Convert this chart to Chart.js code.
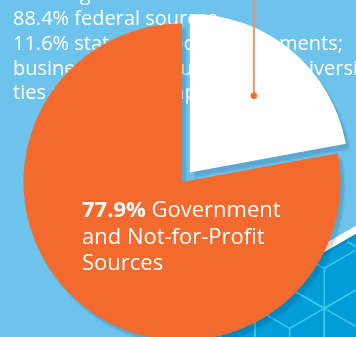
<!DOCTYPE html>
<html>
<head>
<meta charset="utf-8">
<script src="https://cdn.jsdelivr.net/npm/chart.js@4/dist/chart.umd.min.js"></script>
<style>
  html, body { margin: 0; padding: 0; width: 356px; height: 337px; overflow: hidden; background: #6DC3EB; }
  #wrap { position: absolute; left: 0; top: 0; width: 356px; height: 364px; }
</style>
</head>
<body>
<div id="wrap"><canvas id="c"></canvas></div>
<script>
// Funding split
const categories = ['Industry and Other Sources', 'Government and Not-for-Profit Sources'];
const shares = [22.1, 77.9];
// Label text for the large slice (value prefix is built from shares)
const labelLines = ['Government', 'and Not-for-Profit', 'Sources'];
// Breakdown notes printed behind the pie
const noteLines = [
  'Of this government amount:',
  '88.4% federal sources',
  '11.6% state and local governments;',
  'businesses and foundations; universi-',
  'ties and other nonprofits'
];

const BG = '#6DC3EB';
const ORANGE = '#F26A2D';
const DEEP = '#009DD9';
const GRID = '#3DC8F0';

// Background: notes text, and the isometric panel in the lower right
const backdrop = {
  id: 'backdrop',
  beforeDraw(chart) {
    const ctx = chart.ctx, W = chart.width, H = chart.height;
    ctx.save();
    ctx.fillStyle = BG;
    ctx.fillRect(0, 0, W, H);

    ctx.fillStyle = '#FFFFFF';
    ctx.font = '20px "Open Sans", sans-serif';
    ctx.textBaseline = 'alphabetic';
    noteLines.forEach((s, i) => ctx.fillText(s, 13, (i === 0 ? 0 : 0.5) + i * 24.7));

    const t = Math.tan(Math.PI / 6);
    const edge = x => 239 - t * (x - 333);
    const x0 = 90;
    // deep blue panel
    ctx.beginPath();
    ctx.moveTo(x0, edge(x0) + 8);
    ctx.lineTo(W, edge(W) + 8);
    ctx.lineTo(W, H);
    ctx.lineTo(x0, H);
    ctx.closePath();
    ctx.fillStyle = DEEP;
    ctx.fill();

    // honeycomb cube lines inside the panel
    ctx.save();
    ctx.clip();
    ctx.strokeStyle = GRID;
    ctx.lineWidth = 1.5;
    const L = 40, hx = L * Math.sqrt(3) / 2;
    for (let r = -3; r <= 3; r++) {
      for (let c = -5; c <= 2; c++) {
        const cx = 324.3 + c * 2 * hx - ((r & 1) ? hx : 0);
        const cy = 268.3 + r * 1.5 * L;
        ctx.beginPath();
        for (let k = 0; k <= 6; k++) {
          const a = (-90 + 60 * k) * Math.PI / 180;
          const px = cx + L * Math.cos(a), py = cy + L * Math.sin(a);
          if (k === 0) ctx.moveTo(px, py); else ctx.lineTo(px, py);
        }
        ctx.moveTo(cx - hx, cy - L / 2); ctx.lineTo(cx, cy);
        ctx.lineTo(cx + hx, cy - L / 2);
        ctx.moveTo(cx, cy); ctx.lineTo(cx, cy + L);
        ctx.stroke();
      }
    }
    ctx.restore();

    // darker lip under the white stripe
    ctx.beginPath();
    ctx.moveTo(x0, edge(x0) + 8);
    ctx.lineTo(W, edge(W) + 8);
    ctx.lineTo(W, edge(W) + 11);
    ctx.lineTo(x0, edge(x0) + 11);
    ctx.closePath();
    ctx.fillStyle = '#0A8BC6';
    ctx.fill();

    // white stripe
    ctx.beginPath();
    ctx.moveTo(x0, edge(x0));
    ctx.lineTo(W, edge(W));
    ctx.lineTo(W, edge(W) + 8);
    ctx.lineTo(x0, edge(x0) + 8);
    ctx.closePath();
    ctx.fillStyle = '#FFFFFF';
    ctx.fill();
    ctx.restore();
  },
  beforeDatasetsDraw(chart) {
    const ctx = chart.ctx;
    ctx.save();
    ctx.shadowColor = 'rgba(0, 30, 70, 0.17)';
    ctx.shadowOffsetX = 4;
    ctx.shadowOffsetY = 5;
    ctx.shadowBlur = 2;
  },
  afterDatasetsDraw(chart) {
    chart.ctx.restore();
  },
  afterDraw(chart) {
    const ctx = chart.ctx;
    const meta = chart.getDatasetMeta(0);

    // leader line from the small slice up out of view
    const a = meta.data[0];
    const mid = (a.startAngle + a.endAngle) / 2;
    const circ = a.endAngle - a.startAngle;
    const off = (a.options.offset || 0) / 4;
    const shift = off + off * (1 - Math.sin(Math.min(Math.PI, circ)));
    const d = shift + 0.63 * a.outerRadius;
    const px = a.x + Math.cos(mid) * d, py = a.y + Math.sin(mid) * d;
    ctx.save();
    ctx.strokeStyle = '#F4916A';
    ctx.lineWidth = 2;
    ctx.beginPath();
    ctx.moveTo(px, 0);
    ctx.lineTo(px, py);
    ctx.stroke();
    ctx.fillStyle = ORANGE;
    ctx.beginPath();
    ctx.arc(px, py, 3.2, 0, Math.PI * 2);
    ctx.fill();

    // label on the large slice
    const b = meta.data[1];
    const lx = b.x - 100, ly = b.y + 35;
    const value = shares[1].toFixed(1) + '%';
    ctx.fillStyle = '#FFFFFF';
    ctx.textBaseline = 'alphabetic';
    ctx.font = 'bold 22px "Open Sans", sans-serif';
    ctx.fillText(value, lx, ly);
    const vw = ctx.measureText(value + ' ').width;
    ctx.font = '22px "Open Sans", sans-serif';
    ctx.fillText(labelLines[0], lx + vw, ly);
    for (let i = 1; i < labelLines.length; i++) {
      ctx.fillText(labelLines[i], lx, ly + i * 26.7);
    }
    ctx.restore();
  }
};

new Chart(document.getElementById('c'), {
  type: 'pie',
  data: {
    labels: categories,
    datasets: [{
      data: shares,
      backgroundColor: ['#FFFFFF', ORANGE],
      borderWidth: 0,
      offset: [49, 0],
      hoverOffset: 0,
      radius: 158.5
    }]
  },
  options: {
    responsive: true,
    maintainAspectRatio: false,
    animation: false,
    events: [],
    layout: { padding: { left: 8, right: 0, top: 0, bottom: 0 } },
    plugins: { legend: { display: false }, tooltip: { enabled: false } }
  },
  plugins: [backdrop]
});
</script>
</body>
</html>
